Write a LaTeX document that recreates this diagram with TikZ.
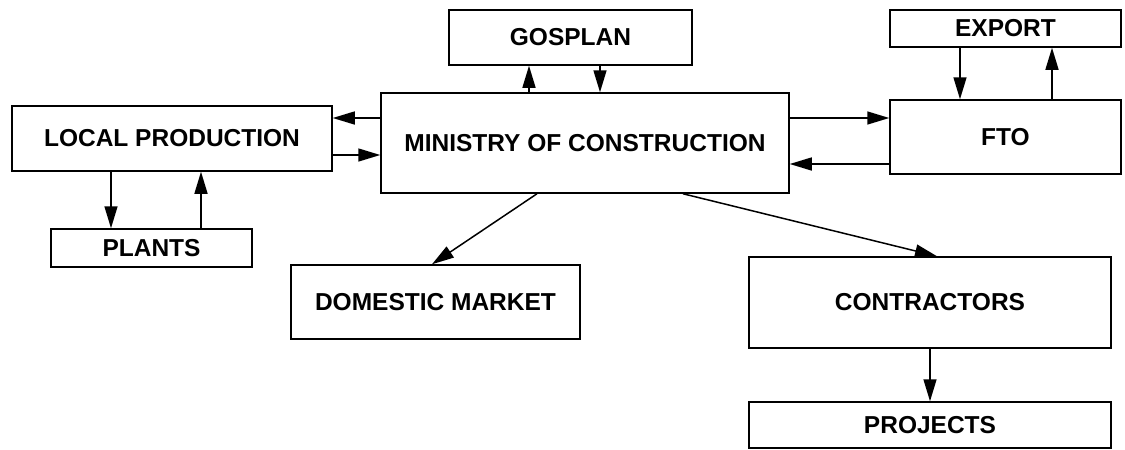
\documentclass[tikz,border=0pt]{standalone}
\usepackage{fontspec}
\setmainfont{Liberation Sans}
\usetikzlibrary{arrows.meta}
\begin{document}
\begin{tikzpicture}[x=1pt,y=-1pt,
  box/.style={draw, line width=1.5pt, inner sep=0pt, align=center,
    font=\fontsize{24.5}{27}\selectfont\bfseries},
  arr/.style={line width=1.5pt, -{Triangle[length=22pt,width=13pt]}}]
\useasboundingbox (0,0) rectangle (1125,450);
\node[box, minimum width=243, minimum height=55] (gos) at (570.5,37.5) {GOSPLAN};
\node[box, minimum width=231, minimum height=37] (exp) at (1005.5,28.5) {EXPORT};
\node[box, minimum width=231, minimum height=74] (fto) at (1005.5,137) {FTO};
\node[box, minimum width=408, minimum height=100] (min) at (585,143) {MINISTRY OF CONSTRUCTION};
\node[box, minimum width=320, minimum height=65] (loc) at (172,138.5) {LOCAL PRODUCTION};
\node[box, minimum width=201, minimum height=38] (pla) at (151.5,248) {PLANTS};
\node[box, minimum width=289, minimum height=74] (dom) at (435.5,302) {DOMESTIC MARKET};
\node[box, minimum width=362, minimum height=91] (con) at (930,302.5) {CONTRACTORS};
\node[box, minimum width=362, minimum height=46] (pro) at (930,425) {PROJECTS};
\draw[arr] (min.west |- 0,118) -- (loc.east |- 0,118);
\draw[arr] (loc.east |- 0,155) -- (min.west |- 0,155);
\draw[arr] (loc.south -| 111,0) -- (pla.north -| 111,0);
\draw[arr] (pla.north -| 201,0) -- (loc.south -| 201,0);
\draw[arr] (min.north -| 529,0) -- (gos.south -| 529,0);
\draw[arr] (gos.south -| 600,0) -- (min.north -| 600,0);
\draw[arr] (min.east |- 0,118) -- (fto.west |- 0,118);
\draw[arr] (fto.west |- 0,164) -- (min.east |- 0,164);
\draw[arr] (exp.south -| 960,0) -- (fto.north -| 960,0);
\draw[arr] (fto.north -| 1052,0) -- (exp.south -| 1052,0);
\draw[arr] (min.south -| 537,0) -- (dom.north -| 432,0);
\draw[arr] (min.south -| 683,0) -- (con.north -| 937,0);
\draw[arr] (con.south) -- (pro.north);
\end{tikzpicture}
\end{document}
